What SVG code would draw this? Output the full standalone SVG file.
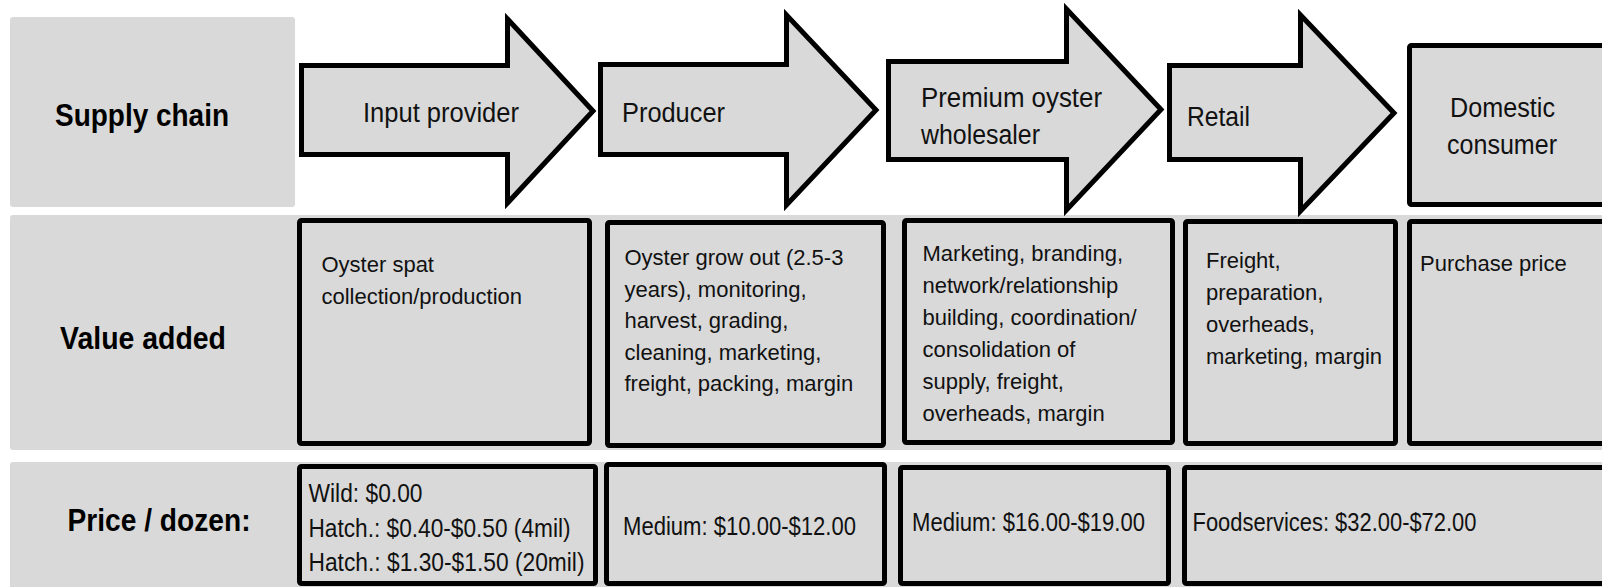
<svg xmlns="http://www.w3.org/2000/svg" width="1602" height="587" viewBox="0 0 1602 587">
  <style>
    .band { fill: #d9d9d9; }
    .cell { fill: #d9d9d9; stroke: #000; stroke-width: 5; stroke-linejoin: miter; }
    .lbl { font-family: "Liberation Sans", Arial, sans-serif; font-weight: bold; font-size: 32px; fill: #000; }
    .hd { font-family: "Liberation Sans", Arial, sans-serif; font-size: 27px; fill: #111; }
    .va { font-family: "Liberation Sans", Arial, sans-serif; font-size: 22px; fill: #111; }
    .pr { font-family: "Liberation Sans", Arial, sans-serif; font-size: 26px; fill: #111; }
  </style>

  <rect width="1602" height="587" fill="#fff"/>

  <!-- row backgrounds -->
  <g id="rows">
    <rect class="band" x="10" y="17" width="285" height="190" rx="3"/>
    <rect class="band" x="10" y="215" width="1600" height="235" rx="3"/>
    <rect class="band" x="10" y="462" width="1600" height="130" rx="3"/>
  </g>

  <!-- row headings -->
  <g id="row-labels">
    <text class="lbl" x="55" y="125.5" textLength="174" lengthAdjust="spacingAndGlyphs">Supply chain</text>
    <text class="lbl" x="60" y="349" textLength="166" lengthAdjust="spacingAndGlyphs">Value added</text>
    <text class="lbl" x="67.5" y="531" textLength="183" lengthAdjust="spacingAndGlyphs">Price / dozen:</text>
  </g>

  <!-- supply chain stages -->
  <g id="input-provider">
    <path class="cell" d="M301.5,65.5 H507.5 V19 L593,111 L507.5,203 V154.5 H301.5 Z"/>
    <text class="hd" x="363" y="122" textLength="156" lengthAdjust="spacingAndGlyphs">Input provider</text>
  </g>
  <g id="producer">
    <path class="cell" d="M600.5,64.5 H786.5 V15 L876,110 L786.5,205 V154.5 H600.5 Z"/>
    <text class="hd" x="622" y="122" textLength="103" lengthAdjust="spacingAndGlyphs">Producer</text>
  </g>
  <g id="wholesaler">
    <path class="cell" d="M888.5,61.5 H1066.5 V9 L1161,109.5 L1066.5,210 V159.5 H888.5 Z"/>
    <text class="hd" x="921" y="106.5" textLength="181" lengthAdjust="spacingAndGlyphs">Premium oyster</text>
    <text class="hd" x="921" y="143.5" textLength="119" lengthAdjust="spacingAndGlyphs">wholesaler</text>
  </g>
  <g id="retail">
    <path class="cell" d="M1169.5,65.5 H1300.5 V15 L1394,113 L1300.5,211 V159.5 H1169.5 Z"/>
    <text class="hd" x="1187" y="126" textLength="63" lengthAdjust="spacingAndGlyphs">Retail</text>
  </g>
  <g id="consumer">
    <rect class="cell" x="1409.5" y="45.5" width="250" height="159" rx="2"/>
    <text class="hd" x="1450" y="117" textLength="105" lengthAdjust="spacingAndGlyphs">Domestic</text>
    <text class="hd" x="1447" y="154" textLength="110" lengthAdjust="spacingAndGlyphs">consumer</text>
  </g>

  <!-- value added cells -->
  <g id="value-input">
    <rect class="cell" x="299.5" y="220.5" width="290" height="223" rx="2"/>
    <text class="va" x="321.5" y="272">Oyster spat</text>
    <text class="va" x="321.5" y="304">collection/production</text>
  </g>
  <g id="value-producer">
    <rect class="cell" x="607.5" y="222.5" width="276" height="223" rx="2"/>
    <text class="va" x="624.5" y="265">Oyster grow out (2.5-3</text>
    <text class="va" x="624.5" y="296.5">years), monitoring,</text>
    <text class="va" x="624.5" y="328">harvest, grading,</text>
    <text class="va" x="624.5" y="359.5">cleaning, marketing,</text>
    <text class="va" x="624.5" y="391">freight, packing, margin</text>
  </g>
  <g id="value-wholesaler">
    <rect class="cell" x="904.5" y="220.5" width="268" height="222" rx="2"/>
    <text class="va" x="922.5" y="261">Marketing, branding,</text>
    <text class="va" x="922.5" y="293">network/relationship</text>
    <text class="va" x="922.5" y="325">building, coordination/</text>
    <text class="va" x="922.5" y="357">consolidation of</text>
    <text class="va" x="922.5" y="389">supply, freight,</text>
    <text class="va" x="922.5" y="421">overheads, margin</text>
  </g>
  <g id="value-retail">
    <rect class="cell" x="1185.5" y="221.5" width="210" height="222" rx="2"/>
    <text class="va" x="1206" y="268">Freight,</text>
    <text class="va" x="1206" y="300">preparation,</text>
    <text class="va" x="1206" y="332">overheads,</text>
    <text class="va" x="1206" y="364">marketing, margin</text>
  </g>
  <g id="value-consumer">
    <rect class="cell" x="1409.5" y="221.5" width="250" height="222" rx="2"/>
    <text class="va" x="1420" y="271">Purchase price</text>
  </g>

  <!-- price cells -->
  <g id="price-input">
    <rect class="cell" x="299.5" y="466.5" width="296" height="117" rx="2"/>
    <text class="pr" x="308.5" y="502" textLength="114" lengthAdjust="spacingAndGlyphs">Wild: $0.00</text>
    <text class="pr" x="308.5" y="537" textLength="262" lengthAdjust="spacingAndGlyphs">Hatch.: $0.40-$0.50 (4mil)</text>
    <text class="pr" x="308.5" y="571" textLength="276" lengthAdjust="spacingAndGlyphs">Hatch.: $1.30-$1.50 (20mil)</text>
  </g>
  <g id="price-producer">
    <rect class="cell" x="606.5" y="464.5" width="278" height="119" rx="2"/>
    <text class="pr" x="623" y="535" textLength="233" lengthAdjust="spacingAndGlyphs">Medium: $10.00-$12.00</text>
  </g>
  <g id="price-wholesaler">
    <rect class="cell" x="900.5" y="467.5" width="268" height="116" rx="2"/>
    <text class="pr" x="912" y="531" textLength="233" lengthAdjust="spacingAndGlyphs">Medium: $16.00-$19.00</text>
  </g>
  <g id="price-retail">
    <rect class="cell" x="1184.5" y="467.5" width="430" height="116" rx="2"/>
    <text class="pr" x="1192.5" y="531" textLength="284" lengthAdjust="spacingAndGlyphs">Foodservices: $32.00-$72.00</text>
  </g>
</svg>
